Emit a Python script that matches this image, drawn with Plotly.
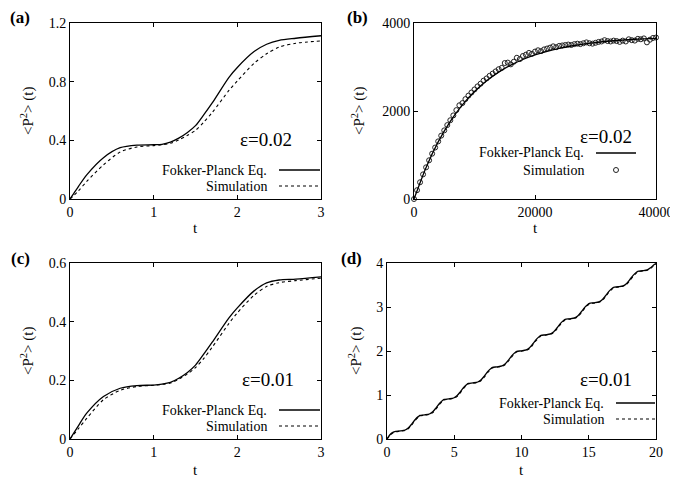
import plotly.graph_objects as go

# The page body adds an 8px margin, so the figure is sized to the window minus it
OFF = 8
W, H = 678 - OFF, 482 - OFF

# ---------------- data ----------------
# (a) eps = 0.02, short time
t_a = [0, 0.1, 0.2, 0.4, 0.6, 0.8, 1.0, 1.1, 1.2, 1.3, 1.4, 1.5, 1.6, 1.7, 1.9, 2.0, 2.2, 2.35, 2.5, 2.7, 3.0]
fp_a = [0, 0.085, 0.165, 0.282, 0.35, 0.368, 0.37, 0.373, 0.388, 0.415, 0.452, 0.5, 0.575, 0.655,
        0.83, 0.897, 1.005, 1.055, 1.082, 1.096, 1.113]
sim_a = [0, 0.055, 0.12, 0.233, 0.32, 0.355, 0.364, 0.37, 0.38, 0.403, 0.433, 0.468, 0.525, 0.59,
         0.74, 0.805, 0.925, 0.99, 1.036, 1.062, 1.078]

# (b) eps = 0.02, long time
t_b_fp = [0, 2000, 4000, 6000, 8000, 10000, 12000, 14000, 16000, 18000, 20000,
          22000, 24000, 26000, 28000, 30000, 32000, 34000, 36000, 38000, 40000]
fp_b = [0, 718, 1298, 1765, 2140, 2443, 2688, 2884, 3043, 3170, 3273,
        3356, 3423, 3477, 3520, 3555, 3585, 3608, 3625, 3640, 3651]
t_b_sim = [i * 500 for i in range(81)]
sim_b = [0, 200, 380, 560, 720, 880, 1030, 1170, 1310, 1440,
         1560, 1680, 1790, 1900, 2020, 2130, 2180, 2270, 2350, 2420,
         2490, 2560, 2620, 2690, 2740, 2800, 2850, 2900, 2950, 2980,
         3090, 3100, 3060, 3120, 3210, 3180, 3250, 3280, 3320, 3300,
         3350, 3380, 3360, 3400, 3420, 3440, 3470, 3450, 3480, 3490,
         3500, 3510, 3500, 3520, 3530, 3520, 3540, 3560, 3540, 3530,
         3550, 3570, 3580, 3610, 3590, 3580, 3600, 3590, 3570, 3600,
         3580, 3630, 3610, 3600, 3640, 3630, 3650, 3560, 3620, 3660, 3670]

# (c) eps = 0.01, short time
t_c = [0, 0.1, 0.2, 0.4, 0.6, 0.8, 1.0, 1.1, 1.2, 1.3, 1.4, 1.5, 1.6, 1.7, 1.9, 2.0, 2.2, 2.35, 2.5, 2.7, 3.0]
fp_c = [0, 0.045, 0.088, 0.145, 0.173, 0.182, 0.184, 0.187, 0.193, 0.207, 0.226, 0.252, 0.29, 0.33,
        0.413, 0.447, 0.505, 0.532, 0.542, 0.545, 0.553]
sim_c = [0, 0.035, 0.07, 0.134, 0.166, 0.179, 0.183, 0.186, 0.191, 0.204, 0.221, 0.243, 0.275, 0.313,
         0.394, 0.43, 0.49, 0.52, 0.533, 0.54, 0.548]

# (d) eps = 0.01, longer time
t_d = [0, 0.2, 0.4, 0.65,
       1.0, 1.35, 1.6, 1.85, 2.1, 2.35, 2.45,
       2.8, 3.15, 3.4, 3.65, 3.9, 4.15, 4.25,
       4.6, 4.95, 5.2, 5.45, 5.7, 5.95, 6.05,
       6.4, 6.75, 7.0, 7.25, 7.5, 7.75, 7.85,
       8.2, 8.55, 8.8, 9.05, 9.3, 9.55, 9.65,
       10.0, 10.35, 10.6, 10.85, 11.1, 11.35, 11.45,
       11.8, 12.15, 12.4, 12.65, 12.9, 13.15, 13.25,
       13.6, 13.95, 14.2, 14.45, 14.7, 14.95, 15.05,
       15.4, 15.75, 16.0, 16.25, 16.5, 16.75, 16.85,
       17.2, 17.55, 17.8, 18.05, 18.3, 18.55, 18.65,
       19.0, 19.35, 19.6, 19.85, 20.0]
fp_d = [0, 0.09, 0.145, 0.175,
        0.184, 0.204, 0.254, 0.344, 0.444, 0.514, 0.536,
        0.548, 0.568, 0.618, 0.708, 0.808, 0.878, 0.900,
        0.912, 0.932, 0.982, 1.072, 1.172, 1.242, 1.264,
        1.276, 1.296, 1.346, 1.436, 1.536, 1.606, 1.628,
        1.640, 1.660, 1.710, 1.800, 1.900, 1.970, 1.992,
        2.004, 2.024, 2.074, 2.164, 2.264, 2.334, 2.356,
        2.368, 2.388, 2.438, 2.528, 2.628, 2.698, 2.720,
        2.732, 2.752, 2.802, 2.892, 2.992, 3.062, 3.084,
        3.096, 3.116, 3.166, 3.256, 3.356, 3.426, 3.448,
        3.460, 3.480, 3.530, 3.620, 3.720, 3.790, 3.812,
        3.824, 3.844, 3.894, 3.960, 3.990]
sim_d = [0, 0.075, 0.13, 0.165,
         0.178, 0.196, 0.238, 0.322, 0.424, 0.500, 0.526,
         0.541, 0.560, 0.600, 0.686, 0.786, 0.862, 0.889,
         0.904, 0.924, 0.964, 1.050, 1.150, 1.226, 1.253,
         1.268, 1.288, 1.328, 1.414, 1.514, 1.590, 1.617,
         1.632, 1.652, 1.692, 1.778, 1.878, 1.954, 1.981,
         1.996, 2.016, 2.056, 2.142, 2.242, 2.318, 2.345,
         2.360, 2.380, 2.420, 2.506, 2.606, 2.682, 2.709,
         2.724, 2.744, 2.784, 2.870, 2.970, 3.046, 3.073,
         3.088, 3.108, 3.148, 3.234, 3.334, 3.410, 3.437,
         3.452, 3.472, 3.512, 3.598, 3.698, 3.774, 3.801,
         3.816, 3.836, 3.876, 3.940, 3.975]

panel_labels = ["(a)", "(b)", "(c)", "(d)"]
eps_labels = ["ε=0.02", "ε=0.02", "ε=0.01", "ε=0.01"]
legend_names = ["Fokker-Planck Eq.", "Simulation"]
y_title = "&lt;P<sup>2</sup>&gt; (t)"
x_title = "t"

x_ranges = [[0, 3], [0, 40000], [0, 3], [0, 20]]
y_ranges = [[0, 1.2], [0, 4000], [0, 0.6], [0, 4]]
x_ticks = [[0, 1, 2, 3], [0, 20000, 40000], [0, 1, 2, 3], [0, 5, 10, 15, 20]]
y_ticks = [[0, 0.4, 0.8, 1.2], [0, 2000, 4000], [0, 0.2, 0.4, 0.6], [0, 1, 2, 3, 4]]
y_ticktext = [["0", "0.4", "0.8", "1.2"], ["0", "2000", "4000"],
              ["0", "0.2", "0.4", "0.6"], ["0", "1", "2", "3", "4"]]

# ---------------- layout geometry (window pixels) ----------------
# (left, right, top, bottom) of each plot frame
frames = [(70, 321, 23, 199), (414, 656, 23, 199), (70, 321, 263, 439), (387, 656, 263, 439)]

FONT = "Liberation Serif, Times New Roman, Times, DejaVu Serif, serif"
fig = go.Figure()

def px2x(p):
    return (p - OFF) / W

def px2y(p):
    return 1 - (p - OFF) / H

dash_style = "3px,3px"
for i in range(4):
    ax = "" if i == 0 else str(i + 1)
    xa, ya = "x" + ax, "y" + ax
    if i == 0:
        fp_x, fp_y, s_x, s_y = t_a, fp_a, t_a, sim_a
    elif i == 1:
        fp_x, fp_y, s_x, s_y = t_b_fp, fp_b, t_b_sim, sim_b
    elif i == 2:
        fp_x, fp_y, s_x, s_y = t_c, fp_c, t_c, sim_c
    else:
        fp_x, fp_y, s_x, s_y = t_d, fp_d, t_d, sim_d

    if i == 1:
        fig.add_trace(go.Scatter(x=s_x, y=s_y, mode="markers", xaxis=xa, yaxis=ya,
                                 marker=dict(symbol="circle-open", size=5, color="#222",
                                             line=dict(width=1, color="#222")),
                                 showlegend=False, cliponaxis=False))
        fig.add_trace(go.Scatter(x=fp_x, y=fp_y, mode="lines", xaxis=xa, yaxis=ya,
                                 line=dict(color="black", width=1.3, shape="spline", smoothing=0.8),
                                 showlegend=False, cliponaxis=False))
    else:
        fig.add_trace(go.Scatter(x=fp_x, y=fp_y, mode="lines", xaxis=xa, yaxis=ya,
                                 line=dict(color="black", width=1.3, shape="spline", smoothing=0.8),
                                 showlegend=False, cliponaxis=False))
        fig.add_trace(go.Scatter(x=s_x, y=s_y, mode="lines", xaxis=xa, yaxis=ya,
                                 line=dict(color="black", width=1.1, dash=dash_style,
                                           shape="spline", smoothing=0.8),
                                 showlegend=False, cliponaxis=False))

    l, r, t, b = frames[i]
    axis_common = dict(showline=True, linecolor="black", linewidth=1, mirror="allticks",
                       ticks="inside", ticklen=4, tickcolor="black", showgrid=False,
                       zeroline=False, automargin=False,
                       tickfont=dict(family=FONT, size=14, color="black"))
    fig.update_layout(**{
        "xaxis" + ax: dict(domain=[px2x(l), px2x(r)], range=x_ranges[i], anchor=ya,
                           tickvals=x_ticks[i], ticktext=[str(v) for v in x_ticks[i]],
                           **axis_common),
        "yaxis" + ax: dict(domain=[px2y(b), px2y(t)], range=y_ranges[i], anchor=xa,
                           tickvals=y_ticks[i], ticktext=y_ticktext[i], **axis_common),
    })

# ---------------- annotations ----------------
ann = []
panel_pos = [(20, 18), (358, 18), (20, 258), (351, 258)]
ylab_x = [27, 358, 27, 355]
xlab_y = [228, 228, 470, 470]
eps_pos = [(266, 140), (606, 136), (268, 379), (606, 379)]
# legend: (text right edge, sample left, sample right, y first row, y second row)
leg = [(269, 279, 320, 170, 186), (586, 596, 636, 153, 170),
       (269, 279, 320, 410, 426), (606, 616, 655, 403, 419)]


def text_at(text, x, y, size, xanchor="center", angle=0):
    return dict(text=text, x=px2x(x), y=px2y(y), xref="paper", yref="paper",
                xanchor=xanchor, yanchor="middle", showarrow=False, textangle=angle,
                font=dict(family=FONT, size=size, color="black"))


shapes = []
for i in range(4):
    l, r, t, b = frames[i]
    ann.append(text_at("<b>" + panel_labels[i] + "</b>", panel_pos[i][0], panel_pos[i][1], 17))
    ann.append(text_at(y_title, ylab_x[i], (t + b) / 2, 15, angle=-90))
    ann.append(text_at(x_title, (l + r) / 2, xlab_y[i], 15))
    ann.append(text_at(eps_labels[i], eps_pos[i][0], eps_pos[i][1], 19))
    tr, sl, sr, y1, y2 = leg[i]
    for j, yy in enumerate((y1, y2)):
        ann.append(text_at(legend_names[j], tr, yy, 14, xanchor="right"))
    shapes.append(dict(type="line", xref="paper", yref="paper", x0=px2x(sl), x1=px2x(sr),
                       y0=px2y(y1), y1=px2y(y1), line=dict(color="black", width=1.3)))
    if i == 1:
        shapes.append(dict(type="circle", xref="paper", yref="paper",
                           x0=px2x((sl + sr) / 2 - 2.5), x1=px2x((sl + sr) / 2 + 2.5),
                           y0=px2y(y2 - 2.5), y1=px2y(y2 + 2.5),
                           line=dict(color="#222", width=1)))
    else:
        shapes.append(dict(type="line", xref="paper", yref="paper", x0=px2x(sl), x1=px2x(sr),
                           y0=px2y(y2), y1=px2y(y2),
                           line=dict(color="black", width=1.1, dash=dash_style)))

fig.update_layout(width=W, height=H,
                  margin=dict(l=0, r=0, t=0, b=0, pad=0, autoexpand=False),
                  paper_bgcolor="white", plot_bgcolor="white",
                  annotations=ann, shapes=shapes, showlegend=False,
                  font=dict(family=FONT, color="black"))

fig.write_html("out.html")
